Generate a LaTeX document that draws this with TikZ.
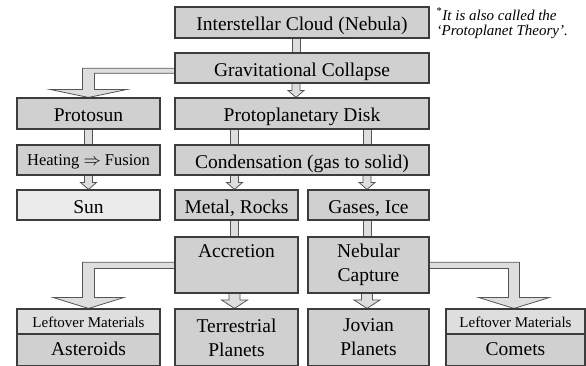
\documentclass[tikz,border=0pt]{standalone}
\usepackage{fontspec}
\setmainfont{Liberation Serif}
\usetikzlibrary{calc}
\pgfdeclarelayer{bg}
\pgfsetlayers{bg,main}
\definecolor{boxfill}{RGB}{208,208,208}
\definecolor{lightfill}{RGB}{235,235,235}
\definecolor{topfill}{RGB}{222,222,222}
\definecolor{arrfill}{RGB}{222,222,222}
\definecolor{boxline}{RGB}{60,60,60}
\definecolor{arrline}{RGB}{85,85,85}
\newcommand\shaftonly[4]{%
  \draw[arr] let \p1=(#1.south -| #3), \p2=(#2.north -| #3) in
    ({\x1-#4},{\y1+1pt}) rectangle ({\x1+#4},{\y2-1pt});}
\newcommand\headarrow[6]{%
  \draw[arr] let \p1=(#1.south -| #3), \p2=(#2.north -| #3) in
    ({\x1-#4},{\y1+1pt}) -- ({\x1-#4},{\y2+#6}) -- ({\x1-#5},{\y2+#6}) -- (\x1,\y2)
    -- ({\x1+#5},{\y2+#6}) -- ({\x1+#4},{\y2+#6}) -- ({\x1+#4},{\y1+1pt}) -- cycle;}
\newcommand\elbowarrow[8]{%
  \draw[arr] let \p1=(#1), \p2=(#2.north -| #3) in
    (\x1,{\y1-#4}) -- ({\x2-(#6)},{\y1-#4}) -- ({\x2-(#6)},{\y2+#8}) -- ({\x2-(#7)},{\y2+#8})
    -- (\x2,\y2) -- ({\x2+(#7)},{\y2+#8}) -- ({\x2+(#6)},{\y2+#8})
    -- ({\x2+(#6)},{\y1-#5}) -- (\x1,{\y1-#5}) -- cycle;}
\begin{document}
\begin{tikzpicture}[x=1pt,y=-1pt,
  box/.style={draw=boxline, fill=boxfill, line width=1.1pt, inner sep=0pt,
    font=\fontsize{19.5}{23.4}\selectfont, text height=16pt, text depth=0pt},
  multibox/.style={draw=boxline, fill=boxfill, line width=1.1pt, inner sep=0pt,
    font=\fontsize{19.5}{24}\selectfont, align=center},
  arr/.style={draw=arrline, fill=arrfill, line width=0.8pt, line join=miter},
  note/.style={inner sep=0pt, font=\fontsize{15}{16}\selectfont}]
\useasboundingbox (0,0) rectangle (586,365);
% columns
\coordinate (cA) at (88.5,0);
\coordinate (cB) at (296,0);
\coordinate (cM) at (234.5,0);
\coordinate (cG) at (367,0);
\coordinate (cC) at (514,0);
% boxes
\node[box, minimum width=254pt, minimum height=31pt] (cloud) at (302,22.5) {Interstellar Cloud (Nebula)};
\node[box, minimum width=254pt, minimum height=30pt] (grav) at (302,68) {Gravitational Collapse};
\node[box, minimum width=254pt, minimum height=31pt] (disk) at (302,113.5) {Protoplanetary Disk};
\node[box, minimum width=143pt, minimum height=31pt] (protosun) at (88.5,113.5) {Protosun};
\node[box, minimum width=143pt, minimum height=30pt, font=\fontsize{16.5}{20}\selectfont, text height=10pt] (heating) at (88.5,160) {Heating $\Rightarrow$ Fusion};
\node[box, fill=lightfill, minimum width=143pt, minimum height=30pt] (sun) at (88.5,205) {Sun};
\node[box, minimum width=254pt, minimum height=30pt] (cond) at (302,160) {Condensation (gas to solid)};
\node[box, minimum width=123pt, minimum height=30pt] (metal) at (236.5,205) {Metal, Rocks};
\node[box, minimum width=121pt, minimum height=30pt] (gases) at (368.5,205) {Gases, Ice};
\node[multibox, minimum width=123pt, minimum height=56pt] (accr) at (236.5,265) {Accretion\\\phantom{Capture}};
\node[multibox, minimum width=121pt, minimum height=56pt] (nebc) at (368.5,265) {Nebular\\Capture};
\node[multibox, minimum width=123pt, minimum height=57pt] (terr) at (236.5,337.5) {Terrestrial\\Planets};
\node[multibox, minimum width=121pt, minimum height=57pt] (jov) at (368.5,337.5) {Jovian\\Planets};
\node[box, fill=topfill, minimum width=143pt, minimum height=25pt, font=\fontsize{15}{17}\selectfont, text height=12pt] (leftA) at (88.5,321.5) {Leftover Materials};
\node[box, minimum width=143pt, minimum height=32pt, text height=10pt] (ast) at (88.5,350) {Asteroids};
\node[box, fill=topfill, minimum width=139pt, minimum height=25pt, font=\fontsize{15}{17}\selectfont, text height=12pt] (leftC) at (515.5,321.5) {Leftover Materials};
\node[box, minimum width=139pt, minimum height=32pt, text height=10pt] (com) at (515.5,350) {Comets};
% note
\node[note, anchor=base west] (note1) at (436.5,20) {\textsuperscript{*}\textit{It is also called the}};
\node[note, anchor=base west] (note2) at (436.5,35.5) {\textit{`Protoplanet Theory'.}};
% arrows
\begin{pgfonlayer}{bg}
\shaftonly{cloud}{grav}{cB}{4pt}
\headarrow{grav}{disk}{cB}{4pt}{8pt}{7pt}
\shaftonly{protosun}{heating}{cA}{4pt}
\headarrow{heating}{sun}{cA}{4pt}{8pt}{7pt}
\shaftonly{disk}{cond}{cM}{4pt}
\shaftonly{disk}{cond}{cG}{4pt}
\headarrow{cond}{metal}{cM}{4pt}{8pt}{7pt}
\headarrow{cond}{gases}{cG}{4pt}{8pt}{7pt}
\shaftonly{metal}{accr}{cM}{4pt}
\shaftonly{gases}{nebc}{cG}{4pt}
\headarrow{accr}{terr}{cM}{5.5pt}{13pt}{8.5pt}
\headarrow{nebc}{jov}{cG}{5.5pt}{13pt}{8.5pt}
\elbowarrow{grav.center}{protosun}{cA}{0.3pt}{5.3pt}{6pt}{38.5pt}{8pt}
\elbowarrow{accr.center}{leftA}{cA}{-2.7pt}{3.5pt}{6pt}{35.5pt}{11pt}
\elbowarrow{nebc.center}{leftC}{cC}{-2.7pt}{3.5pt}{-5.5pt}{-35.5pt}{11pt}
\end{pgfonlayer}
\end{tikzpicture}
\end{document}
